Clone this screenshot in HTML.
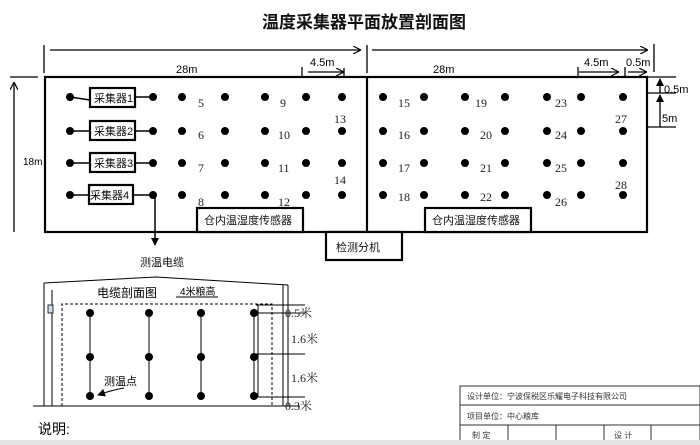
<!DOCTYPE html>
<html><head><meta charset="utf-8"><style>
html,body{margin:0;padding:0;background:#fff;}
svg{display:block;font-family:"Liberation Sans","Noto Sans CJK SC",sans-serif;}
.s{font-family:"Liberation Serif","Noto Serif CJK SC",serif;font-size:12px;fill:#222}
.c{font-size:11px;fill:#111}
</style></head><body>
<svg width="700" height="445" viewBox="0 0 700 445" xmlns="http://www.w3.org/2000/svg">
<defs>
<marker id="a" markerWidth="8" markerHeight="8" refX="7" refY="4" orient="auto" markerUnits="userSpaceOnUse"><path d="M0,0 L8,4 L0,8" fill="none" stroke="#000" stroke-width="1.2"/></marker>
<marker id="f" markerWidth="8" markerHeight="8" refX="7" refY="4" orient="auto" markerUnits="userSpaceOnUse"><path d="M0,0 L8,4 L0,8 z" fill="#000"/></marker>
<g id="r"><circle cx="70" r="4"/><circle cx="153" r="4"/><circle cx="182" r="4"/><circle cx="225" r="4"/><circle cx="265" r="4"/><circle cx="306" r="4"/><circle cx="342" r="4"/>
<circle cx="383" r="4"/><circle cx="424" r="4"/><circle cx="465" r="4"/><circle cx="505" r="4"/><circle cx="547" r="4"/><circle cx="581" r="4"/><circle cx="623" r="4"/></g>
<g id="v"><circle cx="90" r="4"/><circle cx="149" r="4"/><circle cx="201" r="4"/><circle cx="254" r="4"/></g>
</defs>
<text x="262" y="28" font-size="17" textLength="204" font-weight="bold" fill="#111">温度采集器平面放置剖面图</text>
<g stroke="#000" stroke-width="1.3" fill="none">
<line x1="44" y1="45" x2="44" y2="73"/><line x1="367" y1="45" x2="367" y2="73"/><line x1="654" y1="44" x2="654" y2="72"/>
<line x1="50" y1="50" x2="360" y2="50" marker-end="url(#a)"/>
<line x1="372" y1="50" x2="647" y2="50" marker-end="url(#a)"/>
<line x1="302" y1="67" x2="302" y2="77"/><line x1="308" y1="72" x2="343" y2="72" marker-end="url(#a)"/><line x1="344" y1="68" x2="344" y2="77"/>
<line x1="578" y1="67" x2="578" y2="77"/><line x1="579" y1="72" x2="618" y2="72" marker-end="url(#a)"/>
<line x1="625" y1="67" x2="625" y2="77"/><line x1="628" y1="72" x2="646" y2="72" marker-end="url(#a)"/>
<line x1="10" y1="77" x2="38" y2="77"/><line x1="14" y1="232" x2="14" y2="83" marker-end="url(#a)"/>
<line x1="648" y1="77" x2="676" y2="77"/><line x1="648" y1="93" x2="676" y2="93"/><line x1="648" y1="127" x2="676" y2="127"/>
<line x1="660" y1="93" x2="660" y2="79" marker-end="url(#f)"/><line x1="660" y1="127" x2="660" y2="95" marker-end="url(#f)"/>
</g>
<text x="176" y="73" font-size="11">28m</text><text x="433" y="73" font-size="11">28m</text>
<text x="310" y="66" font-size="11">4.5m</text><text x="584" y="66" font-size="11">4.5m</text><text x="626" y="66" font-size="11">0.5m</text>
<text x="23" y="165" font-size="10">18m</text><text x="664" y="93" font-size="11">0.5m</text><text x="662" y="122" font-size="11">5m</text>
<g stroke="#000" stroke-width="2.2" fill="#fff">
<rect x="45" y="77" width="602" height="155"/>
<line x1="367" y1="77" x2="367" y2="232"/>
<rect x="197" y="208" width="106" height="24"/><rect x="425" y="208" width="106" height="24"/>
<rect x="326" y="232" width="76" height="28"/>
<rect x="90" y="88" width="45" height="19"/><rect x="90" y="121" width="45" height="19"/><rect x="90" y="153" width="45" height="19"/><rect x="89" y="185" width="44" height="19"/>
</g>
<g stroke="#000" stroke-width="1.5">
<line x1="70" y1="97" x2="90" y2="100"/><line x1="135" y1="97" x2="153" y2="97"/>
<line x1="70" y1="131" x2="90" y2="131"/><line x1="135" y1="131" x2="153" y2="131"/>
<line x1="70" y1="163" x2="90" y2="163"/><line x1="135" y1="163" x2="153" y2="163"/>
<line x1="70" y1="195" x2="89" y2="195"/><line x1="133" y1="195" x2="153" y2="195"/>
<line x1="155" y1="195" x2="155" y2="245" marker-end="url(#f)"/>
</g>
<text x="94" y="102" class="c">采集器1</text><text x="94" y="135" class="c">采集器2</text><text x="94" y="167" class="c">采集器3</text><text x="90" y="199" class="c">采集器4</text>
<text x="204" y="224" class="c">仓内温湿度传感器</text><text x="432" y="224" class="c">仓内温湿度传感器</text>
<text x="336" y="251" class="c">检测分机</text><text x="140" y="266" class="c">测温电缆</text>
<g fill="#000">
<use href="#r" y="97"/><use href="#r" y="131"/><use href="#r" y="163"/><use href="#r" y="195"/>
</g>
<g class="s">
<text x="198" y="107">5</text><text x="198" y="139">6</text><text x="198" y="172">7</text><text x="198" y="206">8</text>
<text x="280" y="107">9</text><text x="278" y="139">10</text><text x="278" y="172">11</text><text x="278" y="206">12</text>
<text x="334" y="123">13</text><text x="334" y="184">14</text>
<text x="398" y="107">15</text><text x="398" y="139">16</text><text x="398" y="172">17</text><text x="398" y="201">18</text>
<text x="475" y="107">19</text><text x="480" y="139">20</text><text x="480" y="172">21</text><text x="480" y="201">22</text>
<text x="555" y="107">23</text><text x="555" y="139">24</text><text x="555" y="172">25</text><text x="555" y="206">26</text>
<text x="615" y="123">27</text><text x="615" y="189">28</text>
</g>
<g stroke="#000" stroke-width="1" fill="none">
<polyline points="44,283 156,277 288,285"/>
<line x1="44" y1="283" x2="44" y2="406"/><line x1="52" y1="290" x2="52" y2="406"/>
<line x1="283" y1="285" x2="283" y2="406"/><line x1="288" y1="285" x2="288" y2="406"/>
<line x1="33" y1="406" x2="300" y2="406"/>
<polyline points="62,406 62,304 272,304 272,406" stroke-dasharray="3,2"/>
<line x1="90" y1="313" x2="90" y2="396"/><line x1="149" y1="313" x2="149" y2="396"/><line x1="201" y1="313" x2="201" y2="396"/><line x1="254" y1="313" x2="254" y2="396"/>
<line x1="258" y1="305" x2="258" y2="397"/>
<line x1="256" y1="305" x2="305" y2="305"/><line x1="256" y1="313" x2="305" y2="313"/><line x1="256" y1="354" x2="305" y2="354"/><line x1="256" y1="397" x2="305" y2="397"/>
<line x1="176" y1="297" x2="218" y2="297"/>
<path d="M124,388 Q112,390 98,395" marker-end="url(#f)"/>
</g>
<rect x="48" y="305" width="5" height="8" fill="#cde" stroke="#000" stroke-width="0.8"/>
<g fill="#000"><use href="#v" y="313"/><use href="#v" y="357"/><use href="#v" y="396"/></g>
<text x="97" y="297" font-size="12">电缆剖面图</text><text x="180" y="295" font-size="10">4米粮高</text>
<text x="104" y="385" font-size="11">测温点</text>
<g class="s"><text x="285" y="317">0.5米</text><text x="291" y="343">1.6米</text><text x="291" y="382">1.6米</text><text x="285" y="410">0.3米</text></g>
<text x="38" y="434" font-size="14">说明:</text>
<g stroke="#333" stroke-width="1" fill="none">
<rect x="460" y="386" width="240" height="60"/>
<line x1="460" y1="405" x2="700" y2="405"/><line x1="460" y1="425" x2="700" y2="425"/>
<line x1="508" y1="425" x2="508" y2="445"/><line x1="556" y1="425" x2="556" y2="445"/><line x1="604" y1="425" x2="604" y2="445"/><line x1="651" y1="425" x2="651" y2="445"/>
</g>
<text x="467" y="399" font-size="8" fill="#333">设计单位：宁波保税区乐耀电子科技有限公司</text>
<text x="467" y="419" font-size="8" fill="#333">项目单位：中心粮库</text>
<text x="472" y="438" font-size="8" fill="#333">制 定</text><text x="614" y="438" font-size="8" fill="#333">设 计</text>
<rect x="0" y="440" width="700" height="5" fill="#e4e4e4"/>
</svg>
</body></html>
